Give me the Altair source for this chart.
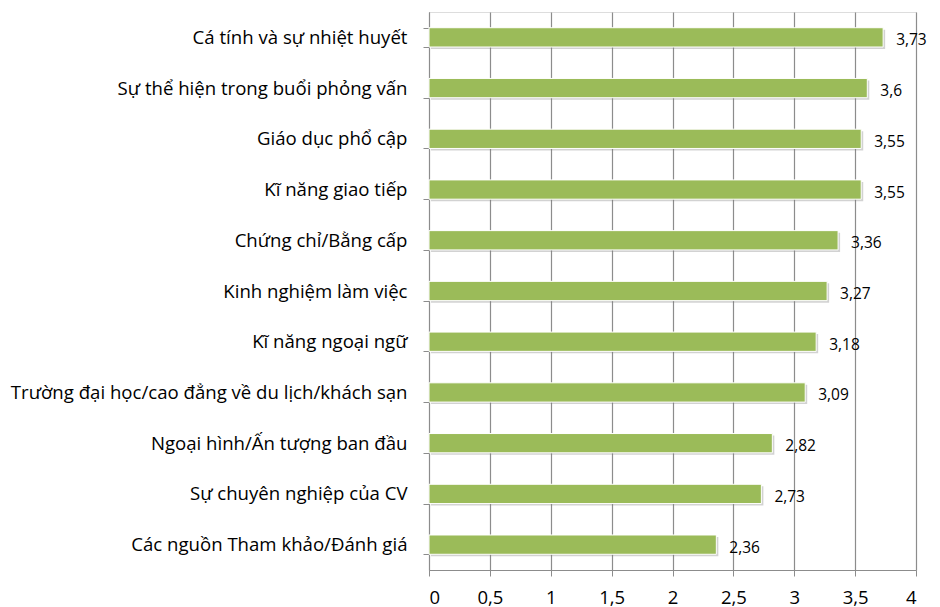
import altair as alt
import pandas as pd

categories = [
    "Cá tính và sự nhiệt huyết",
    "Sự thể hiện trong buổi phỏng vấn",
    "Giáo dục phổ cập",
    "Kĩ năng giao tiếp",
    "Chứng chỉ/Bằng cấp",
    "Kinh nghiệm làm việc",
    "Kĩ năng ngoại ngữ",
    "Trường đại học/cao đẳng về du lịch/khách sạn",
    "Ngoại hình/Ấn tượng ban đầu",
    "Sự chuyên nghiệp của CV",
    "Các nguồn Tham khảo/Đánh giá",
]
values = [3.73, 3.6, 3.55, 3.55, 3.36, 3.27, 3.18, 3.09, 2.82, 2.73, 2.36]
x_ticks = [0, 0.5, 1, 1.5, 2, 2.5, 3, 3.5, 4]

df = pd.DataFrame({
    "cat": categories,
    "val": values,
    "lbl": [f"{v:g}".replace(".", ",") for v in values],
})

FONT = "Open Sans"
GRID = "#8c8c8c"

y_enc = alt.Y("cat:N", sort=categories, title=None,
              scale=alt.Scale(paddingInner=0.62, paddingOuter=0.31),
              axis=alt.Axis(labelFont=FONT, labelFontSize=18.6, labelColor="#000000",
                            labelPadding=16, tickSize=6, tickColor=GRID,
                            domainColor=GRID, tickBand="extent", labelLimit=500))
x_enc = alt.X("val:Q", title=None,
              scale=alt.Scale(domain=[0, 4], nice=False),
              axis=alt.Axis(values=x_ticks,
                            labelExpr="datum.value == floor(datum.value) ? format(datum.value, 'd') : format(floor(datum.value), 'd') + ',5'",
                            labelFont=FONT, labelFontSize=18.5, labelColor="#000000",
                            labelPadding=12, tickSize=6, tickColor=GRID,
                            domainColor=GRID, gridColor=GRID, grid=True, gridWidth=1.2))

base = alt.Chart(df)

shadow = base.mark_bar(color="#7f7f7f", opacity=0.35, xOffset=2, yOffset=2).encode(
    x=x_enc, y=y_enc)
bars = base.mark_bar(color="#9BBB59", stroke="#ffffff", strokeWidth=1).encode(
    x="val:Q", y=alt.Y("cat:N", sort=categories))
text = base.mark_text(align="left", dx=13, dy=3, font=FONT, fontSize=15.5, color="#000000").encode(
    x="val:Q", y=alt.Y("cat:N", sort=categories), text="lbl:N")

chart = alt.layer(shadow, bars, text).properties(
    width=487, height=558,
    autosize=alt.AutoSizeParams(type="none"),
    padding={"left": 421, "top": 4, "right": 16, "bottom": 40},
).configure_view(stroke=None).configure(background="#ffffff")

chart.save("out.html", embed_options={"renderer": "svg", "actions": False})
